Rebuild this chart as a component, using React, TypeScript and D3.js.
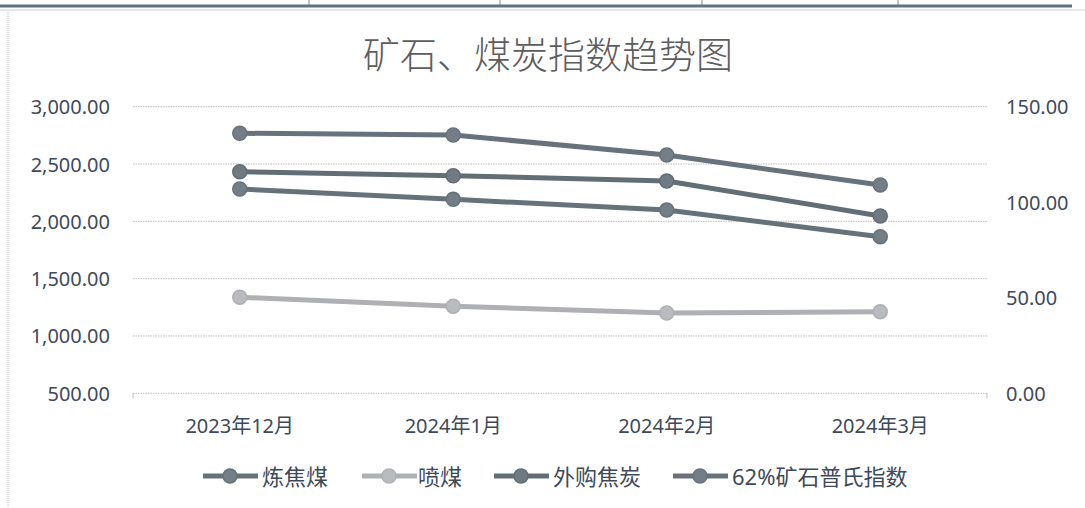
import { useEffect, useRef } from "react";
import * as d3 from "d3";

const categories = ["2023年12月", "2024年1月", "2024年2月", "2024年3月"];
const cokingCoal = [2282, 2192, 2099, 1866];
const pciCoal = [1338, 1260, 1200, 1212];
const purchasedCoke = [2433, 2398, 2352, 2047];
const ore62 = [136.1, 135.2, 124.7, 109];
const leftTicks = [500, 1000, 1500, 2000, 2500, 3000];
const rightTicks = [0, 50, 100, 150];

const seriesNames = ["炼焦煤", "喷煤", "外购焦炭", "62%矿石普氏指数"];

const W = 1085;
const H = 508;
const FONT = "'Noto Sans', 'Noto Sans CJK SC', sans-serif";

export default function App() {
  const svgRef = useRef<SVGSVGElement>(null);

  useEffect(() => {
    if (!svgRef.current) return;
    const svg = d3.select(svgRef.current);
    svg.selectAll("*").remove();

    const plot = { left: 133, right: 987, top: 106.7, bottom: 393.3 };

    const x = d3
      .scaleBand<string>()
      .domain(categories)
      .range([plot.left, plot.right]);
    const yL = d3.scaleLinear().domain([500, 3000]).range([plot.bottom, plot.top]);
    const yR = d3.scaleLinear().domain([0, 150]).range([plot.bottom, plot.top]);
    const fmt = d3.format(",.2f");

    svg.append("rect").attr("width", W).attr("height", H).attr("fill", "#fff");

    // scan border bits
    svg.append("line").attr("x1", 0).attr("x2", 1072).attr("y1", 6).attr("y2", 6)
      .attr("stroke", "#5f7282").attr("stroke-width", 3);
    svg.append("line").attr("x1", 0).attr("x2", 1085).attr("y1", 10).attr("y2", 10)
      .attr("stroke", "#c9d0d6").attr("stroke-width", 1);
    [309, 500, 702, 898].forEach((tx) => {
      svg.append("line").attr("x1", tx).attr("x2", tx).attr("y1", 0).attr("y2", 5)
        .attr("stroke", "#7a8894").attr("stroke-width", 1);
    });
    svg.append("line").attr("x1", 8).attr("x2", 8).attr("y1", 12).attr("y2", H)
      .attr("stroke", "#c8c8c8").attr("stroke-dasharray", "1,1");

    // title
    svg.append("text")
      .attr("x", 548).attr("y", 53)
      .attr("text-anchor", "middle").attr("dominant-baseline", "central")
      .attr("font-family", "'Noto Sans CJK SC', sans-serif")
      .attr("font-weight", 300)
      .attr("font-size", 37).attr("fill", "#5d5d5d")
      .text("矿石、煤炭指数趋势图");

    // gridlines
    svg.append("g").selectAll("line").data(leftTicks).join("line")
      .attr("x1", plot.left).attr("x2", plot.right)
      .attr("y1", (d) => yL(d)).attr("y2", (d) => yL(d))
      .attr("stroke", "#bdbdbd").attr("stroke-width", 1)
      .attr("stroke-dasharray", "1.5,1");
    // end ticks of category axis
    [plot.left, plot.right].forEach((tx) => {
      svg.append("line").attr("x1", tx).attr("x2", tx)
        .attr("y1", plot.bottom).attr("y2", plot.bottom + 5)
        .attr("stroke", "#bdbdbd");
    });

    // left labels
    svg.append("g").selectAll("text").data(leftTicks).join("text")
      .attr("x", 110).attr("y", (d) => yL(d))
      .attr("text-anchor", "end").attr("dominant-baseline", "central")
      .attr("font-family", FONT).attr("font-size", 20).attr("fill", "#3e4a5a")
      .text((d) => fmt(d));

    // right labels
    svg.append("g").selectAll("text").data(rightTicks).join("text")
      .attr("x", 1006).attr("y", (d) => yR(d))
      .attr("text-anchor", "start").attr("dominant-baseline", "central")
      .attr("font-family", FONT).attr("font-size", 20).attr("fill", "#3e4a5a")
      .text((d) => fmt(d));

    // category labels
    svg.append("g").selectAll("text").data(categories).join("text")
      .attr("x", (d) => x(d)! + x.bandwidth() / 2).attr("y", 425)
      .attr("text-anchor", "middle").attr("dominant-baseline", "central")
      .attr("font-family", FONT).attr("font-size", 20).attr("fill", "#3e4a5a")
      .text((d) => d);

    const series = [
      { name: seriesNames[0], values: cokingCoal, y: yL, stroke: "#66727a", fill: "#737e86" },
      { name: seriesNames[1], values: pciCoal, y: yL, stroke: "#aeb0b4", fill: "#b9bbbf" },
      { name: seriesNames[2], values: purchasedCoke, y: yL, stroke: "#626e76", fill: "#6f7a82" },
      { name: seriesNames[3], values: ore62, y: yR, stroke: "#68727c", fill: "#757d87" },
    ];

    series.forEach((s) => {
      const pts = s.values.map((v, i) => [x(categories[i])! + x.bandwidth() / 2, s.y(v)] as [number, number]);
      svg.append("path")
        .attr("d", d3.line()(pts))
        .attr("fill", "none").attr("stroke", s.stroke)
        .attr("stroke-width", 5).attr("stroke-linejoin", "round");
      svg.append("g").selectAll("circle").data(pts).join("circle")
        .attr("cx", (d) => d[0]).attr("cy", (d) => d[1]).attr("r", 7)
        .attr("fill", s.fill).attr("stroke", s.stroke).attr("stroke-width", 1.5);
    });

    // legend
    const legendX = [203, 362, 494, 673];
    const legendTextX = [262, 418, 553, 732];
    const ly = 476;
    series.forEach((s, i) => {
      const g = svg.append("g");
      g.append("line").attr("x1", legendX[i]).attr("x2", legendX[i] + 55)
        .attr("y1", ly).attr("y2", ly)
        .attr("stroke", s.stroke).attr("stroke-width", 5);
      g.append("circle").attr("cx", legendX[i] + 27).attr("cy", ly).attr("r", 7)
        .attr("fill", s.fill).attr("stroke", s.stroke).attr("stroke-width", 1.5);
      g.append("text").attr("x", legendTextX[i]).attr("y", ly)
        .attr("dominant-baseline", "central")
        .attr("font-family", FONT).attr("font-size", 22).attr("fill", "#3e4a5a")
        .text(s.name);
    });
  }, []);

  return (
    <svg
      ref={svgRef}
      width={W}
      height={H}
      style={{ position: "absolute", left: 0, top: 0 }}
    />
  );
}
